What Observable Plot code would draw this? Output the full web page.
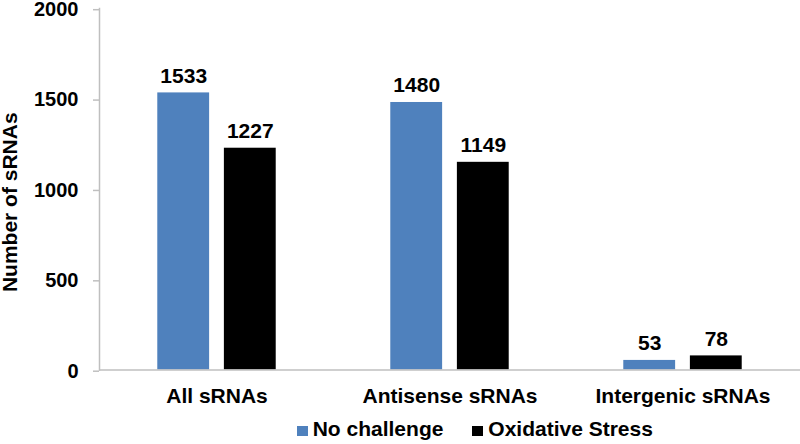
<!DOCTYPE html>
<html>
<head>
<meta charset="utf-8">
<script src="https://cdn.jsdelivr.net/npm/d3@7"></script>
<script src="https://cdn.jsdelivr.net/npm/@observablehq/plot@0.6"></script>
<style>
  html, body { margin: 0; padding: 0; background: #fff; }
  body { width: 800px; height: 444px; overflow: hidden; font-family: "Liberation Sans", Arial, sans-serif; }
  #legend { position: relative; height: 34px; font-size: 21px; font-weight: bold; line-height: 24px; color: #000; }
  .item { position: absolute; top: 7px; white-space: nowrap; }
  .sw { position: absolute; width: 11px; height: 10px; top: 15.7px; }
</style>
</head>
<body>
<div id="chart"></div>
<div id="legend"></div>
<script>
const groups = ["All sRNAs", "Antisense sRNAs", "Intergenic sRNAs"];
const series = ["No challenge", "Oxidative Stress"];
const noChallenge = [1533, 1480, 53];
const oxidativeStress = [1227, 1149, 78];
const yTicks = [0, 500, 1000, 1500, 2000];
const yLabel = "Number of sRNAs";
const colors = ["#4F81BD", "#000000"];

const rows1 = groups.map((g, i) => ({group: g, value: noChallenge[i]}));
const rows2 = groups.map((g, i) => ({group: g, value: oxidativeStress[i]}));

const bandW = 701 / 3;
const inset = (bandW - 52.5) / 2;
const font = "'Liberation Sans', Arial, sans-serif";

const chart = Plot.plot({
  width: 800,
  height: 410,
  marginLeft: 99,
  marginRight: 0,
  marginTop: 8,
  marginBottom: 40.5,
  style: {fontFamily: font, fontWeight: "bold", background: "#fff", color: "#000", overflow: "visible"},
  x: {domain: groups, padding: 0, axis: null},
  y: {domain: [0, 2000], axis: null},
  marks: [
    Plot.barY(rows1, {x: "group", y: "value", fill: colors[0], insetLeft: inset, insetRight: inset, dx: -33.3}),
    Plot.barY(rows2, {x: "group", y: "value", fill: colors[1], insetLeft: inset, insetRight: inset, dx: 33.3}),
    Plot.text(rows1, {x: "group", y: "value", text: d => String(d.value), dx: -33.3, dy: -10, lineAnchor: "bottom", fontSize: 21, fontWeight: "bold", fill: "#000"}),
    Plot.text(rows2, {x: "group", y: "value", text: d => String(d.value), dx: 33.3, dy: -10, lineAnchor: "bottom", fontSize: 21, fontWeight: "bold", fill: "#000"}),
    Plot.axisY({ticks: yTicks, tickSize: 6, tickPadding: 15, stroke: "#bfbfbf", strokeWidth: 1.5, fill: "#000", fontSize: 20, fontWeight: "bold", label: null, tickFormat: d => String(d), dy: 1.2}),
    Plot.axisX({tickSize: 0, tickPadding: 18.5, fill: "#000", fontSize: 21, fontWeight: "bold", label: null}),
    Plot.frame({anchor: "left", stroke: "#bfbfbf", strokeWidth: 1.5}),
    Plot.ruleY([0], {stroke: "#bfbfbf", strokeWidth: 1.5}),
    Plot.text([yLabel], {frameAnchor: "left", textAnchor: "middle", lineAnchor: "middle", rotate: -90, dx: -89, dy: 13, fontSize: 21, fontWeight: "bold", fill: "#000"})
  ]
});
document.getElementById("chart").appendChild(chart);

const legend = document.getElementById("legend");
const pos = [{sw: 297.3, tx: 312.7}, {sw: 472.3, tx: 488.3}];
series.forEach((s, i) => {
  const sw = document.createElement("div");
  sw.className = "sw";
  sw.style.left = pos[i].sw + "px";
  sw.style.background = colors[i];
  legend.appendChild(sw);
  const t = document.createElement("div");
  t.className = "item";
  t.style.left = pos[i].tx + "px";
  t.textContent = s;
  legend.appendChild(t);
});
</script>
</body>
</html>
